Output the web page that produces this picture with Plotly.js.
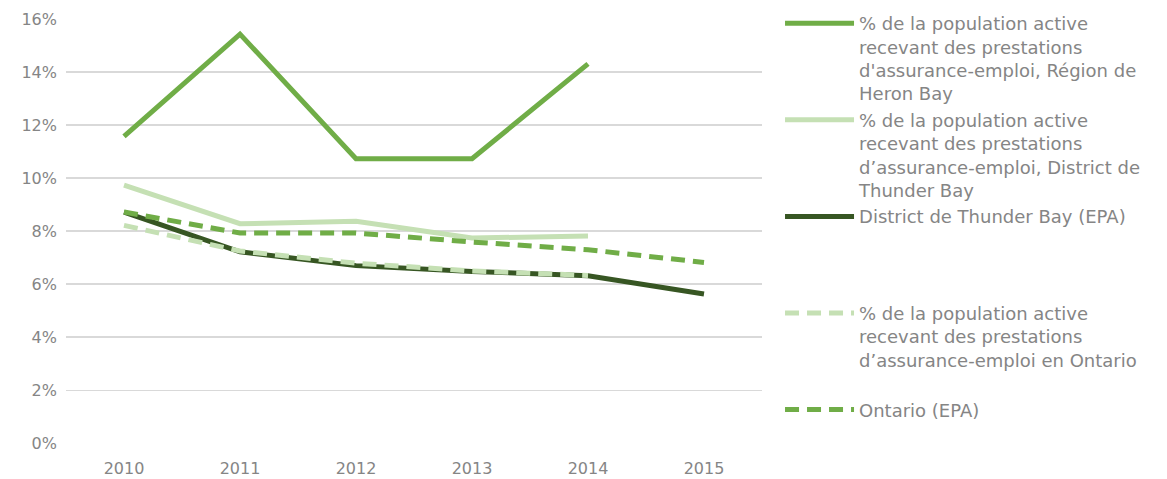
<!DOCTYPE html>
<html>
<head>
<meta charset="utf-8">
<script src="https://cdn.plot.ly/plotly-3.0.1.min.js"></script>
<style>
  html, body { margin: 0; padding: 0; background: #ffffff; }
  #chart { width: 1167px; height: 479px; }
</style>
</head>
<body>
<div id="chart"></div>
<script>
// ---- Data ----
const years = ['2010', '2011', '2012', '2013', '2014', '2015'];

const heronBayEI    = [11.57, 15.43, 10.73, 10.73, 14.31, null];
const thunderBayEI  = [9.74, 8.28, 8.37, 7.74, 7.82, null];
const thunderBayEPA = [8.72, 7.22, 6.70, 6.48, 6.32, 5.63];
const ontarioEI     = [8.22, 7.25, 6.79, 6.50, 6.33, null];
const ontarioEPA    = [8.72, 7.93, 7.93, 7.59, 7.30, 6.82];

const yTickVals = [0, 2, 4, 6, 8, 10, 12, 14, 16];
const yTickText = ['0%', '2%', '4%', '6%', '8%', '10%', '12%', '14%', '16%'];

const names = [
  "% de la population active<br>recevant des prestations<br>d'assurance-emploi, Région de<br>Heron Bay",
  "% de la population active<br>recevant des prestations<br>d\u2019assurance-emploi, District de<br>Thunder Bay",
  "District de Thunder Bay (EPA)<br> <br> <br> ",
  "% de la population active<br>recevant des prestations<br>d\u2019assurance-emploi en Ontario<br> ",
  "Ontario (EPA)"
];

const FONT = '"DejaVu Sans", sans-serif';
const TXT = '#858585';

function tr(y, name, color, dash) {
  return {
    x: years, y: y, name: name, type: 'scatter', mode: 'lines',
    line: { color: color, width: 5, dash: dash || 'solid' },
    connectgaps: false, hoverinfo: 'skip'
  };
}

const data = [
  tr(heronBayEI, names[0], '#70AD47'),
  tr(thunderBayEI, names[1], '#C5E0B4'),
  tr(thunderBayEPA, names[2], '#375623'),
  tr(ontarioEI, names[3], '#C5E0B4', '14px,8px'),
  tr(ontarioEPA, names[4], '#70AD47', '14px,8px')
];

const layout = {
  width: 1167, height: 479,
  margin: { l: 66, r: 405, t: 5, b: 5 },
  paper_bgcolor: '#ffffff', plot_bgcolor: '#ffffff',
  font: { family: FONT, color: TXT, size: 16 },
  showlegend: true,
  hovermode: false,
  xaxis: {
    type: 'category', range: [-0.5, 5.5],
    showgrid: false, zeroline: false, showline: false, ticks: '',
    tickfont: { family: FONT, size: 16, color: TXT },
    ticklabelstandoff: 14
  },
  yaxis: {
    domain: [0.0655, 0.9701],
    range: [0, 16], tickmode: 'array', tickvals: yTickVals, ticktext: yTickText,
    showgrid: true, gridcolor: '#D9D9D9', gridwidth: 1.5,
    zeroline: false, showline: false, ticks: '',
    tickfont: { family: FONT, size: 16, color: TXT },
    ticklabelstandoff: 8
  },
  legend: {
    x: 1.0259, xanchor: 'left', y: 1, yanchor: 'top',
    valign: 'top',
    font: { family: FONT, size: 18, color: TXT },
    tracegroupgap: 0, itemwidth: 69,
    bgcolor: 'rgba(0,0,0,0)', borderwidth: 0
  }
};

Plotly.newPlot('chart', data, layout, { staticPlot: true, displayModeBar: false });
</script>
</body>
</html>
